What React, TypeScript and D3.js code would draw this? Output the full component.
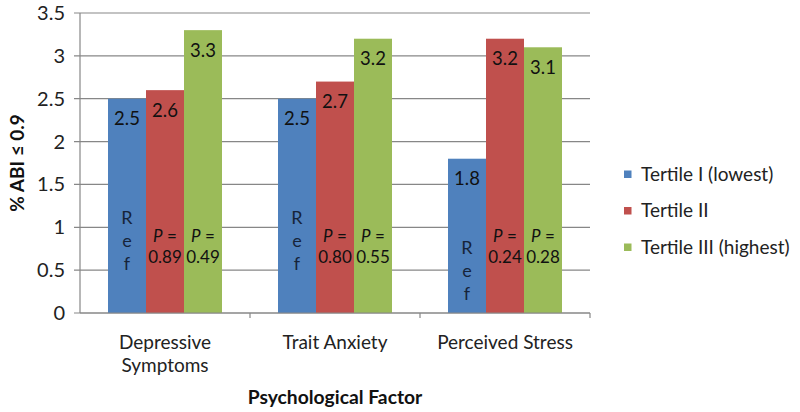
import React from "react";
import * as d3 from "d3";

const categories = ["Depressive Symptoms", "Trait Anxiety", "Perceived Stress"];
const categoryLines = [["Depressive", "Symptoms"], ["Trait Anxiety"], ["Perceived Stress"]];
const seriesNames = ["Tertile I (lowest)", "Tertile II", "Tertile III (highest)"];
const seriesColors = ["#4F81BD", "#C0504D", "#9BBB59"];
const tertile1 = [2.5, 2.5, 1.8];
const tertile2 = [2.6, 2.7, 3.2];
const tertile3 = [3.3, 3.2, 3.1];
const pTertile2 = ["0.89", "0.80", "0.24"];
const pTertile3 = ["0.49", "0.55", "0.28"];
const yTicks = [0, 0.5, 1, 1.5, 2, 2.5, 3, 3.5];

const W = 800, H = 412;
const FONT = "Lato, Carlito, Calibri, sans-serif";

export default function App() {
  const left = 80, right = 590, top = 13, bottom = 313;
  const x = d3.scaleBand<string>().domain(categories).range([left, right]).paddingInner(0).paddingOuter(0);
  const y = d3.scaleLinear().domain([0, 3.5]).range([bottom, top]);
  const barW = 38;
  const series = [tertile1, tertile2, tertile3];
  const grid = "#878787";

  return (
    <svg width={W} height={H} style={{ position: "absolute", left: 0, top: 0, fontFamily: FONT }}>
      <rect width={W} height={H} fill="#fff" />
      {yTicks.map((t) => (
        <g key={t}>
          <line x1={left - 6} x2={right} y1={y(t)} y2={y(t)} stroke={grid} strokeWidth={1.2} />
          <text x={left - 15} y={y(t)} dy="0.35em" textAnchor="end" fontSize={20} fill="#222">{t}</text>
        </g>
      ))}
      <line x1={left} x2={left} y1={top} y2={bottom} stroke={grid} strokeWidth={1.2} />
      {categories.map((c, i) => {
        const cx = (x(c) as number) + x.bandwidth() / 2;
        const gx = cx - (barW * 3) / 2;
        return (
          <g key={c}>
            {series.map((s, j) => (
              <rect key={j} x={gx + j * barW} y={y(s[i])} width={barW} height={bottom - y(s[i])} fill={seriesColors[j]} />
            ))}
            {series.map((s, j) => (
              <text key={"v" + j} x={gx + j * barW + barW / 2} y={y(s[i]) + 20} dy="0.35em" textAnchor="middle" fontSize={18.5} fill="#111">{s[i].toFixed(1)}</text>
            ))}
            {["R", "e", "f"].map((ch, k) => {
              const mid = (y(tertile1[i]) + bottom) / 2 + 35;
              return (
                <text key={"r" + k} x={gx + barW / 2} y={mid + (k - 1) * 23} dy="0.35em" textAnchor="middle" fontSize={18} fill="#16243a">{ch}</text>
              );
            })}
            {[pTertile2, pTertile3].map((p, j) => (
              <g key={"p" + j}>
                <text x={gx + (j + 1) * barW + barW / 2} y={y(0.9)} dy="0.35em" textAnchor="middle" fontSize={17} fill="#111">
                  <tspan fontStyle="italic">P</tspan> =
                </text>
                <text x={gx + (j + 1) * barW + barW / 2} y={y(0.9) + 21} dy="0.35em" textAnchor="middle" fontSize={17} fill="#111">{p[i]}</text>
              </g>
            ))}
            {categoryLines[i].map((ln, k) => (
              <text key={"c" + k} x={cx} y={342 + k * 23} dy="0.35em" textAnchor="middle" fontSize={19} fill="#222">{ln}</text>
            ))}
            <line x1={(x(c) as number) + x.bandwidth()} x2={(x(c) as number) + x.bandwidth()} y1={bottom} y2={bottom + 5} stroke={grid} strokeWidth={1.2} />
          </g>
        );
      })}
      <line x1={left} x2={right} y1={bottom} y2={bottom} stroke={grid} strokeWidth={1.2} />
      <text x={335} y={397} dy="0.35em" textAnchor="middle" fontSize={19.3} fontWeight="bold" fill="#111">Psychological Factor</text>
      <text transform={`translate(17,${163}) rotate(-90)`} dy="0.35em" textAnchor="middle" fontSize={19} fontWeight="bold" fill="#111">% ABI ≤ 0.9</text>
      {seriesNames.map((n, j) => (
        <g key={n}>
          <rect x={624} y={174 + j * 36.5 - 3.5} width={7.5} height={7.5} fill={seriesColors[j]} />
          <text x={641} y={174 + j * 36.5} dy="0.35em" fontSize={19} fill="#222">{n}</text>
        </g>
      ))}
    </svg>
  );
}
